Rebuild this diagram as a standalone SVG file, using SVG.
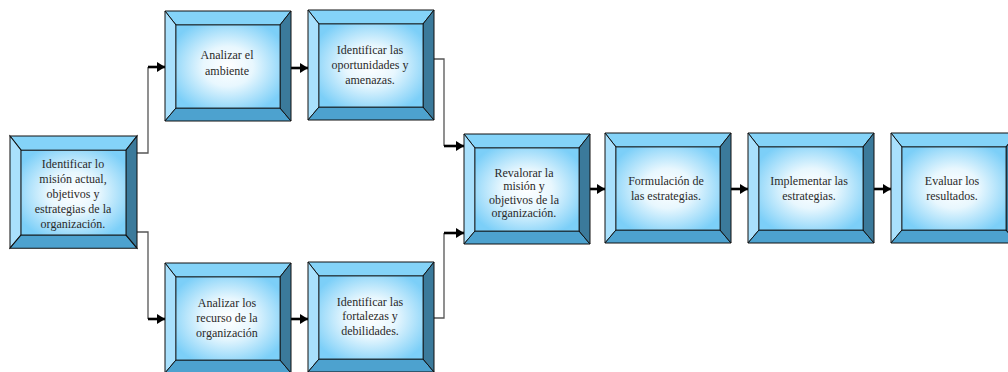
<svg xmlns="http://www.w3.org/2000/svg" width="1008" height="372" viewBox="0 0 1008 372">
<style>
.top{fill:#84d3f8;stroke:#111;stroke-width:1}
.lft{fill:#a9e0fc;stroke:#111;stroke-width:1}
.bot{fill:#4da2cf;stroke:#111;stroke-width:1}
.rgt{fill:#3b7a9b;stroke:#111;stroke-width:1}
.inn{fill:url(#g);stroke:#111;stroke-width:0.8}
.t{font-family:"Liberation Serif",serif;font-size:12px;fill:#2a2a2a;text-anchor:middle}
.thin{fill:none;stroke:#555;stroke-width:1.3}
.thick{fill:none;stroke:#000;stroke-width:2.6;marker-end:url(#a)}
</style>
<defs>
<radialGradient id="g" cx="0.5" cy="0.5" r="0.6">
<stop offset="0" stop-color="#ffffff"/>
<stop offset="0.4" stop-color="#e8f7fe"/>
<stop offset="1" stop-color="#7ccff8"/>
</radialGradient>
<marker id="a" markerUnits="userSpaceOnUse" markerWidth="9" markerHeight="10" refX="8" refY="5" orient="auto">
<path d="M0,0 L8,5 L0,10 z" fill="#000"/>
</marker>
<g id="box">
<polygon class="top" points="0,0 126,0 115,14 11,14"/>
<polygon class="lft" points="0,0 11,14 11,97 0,110"/>
<polygon class="bot" points="0,110 11,97 115,97 126,110"/>
<polygon class="rgt" points="126,0 126,110 115,97 115,14"/>
<rect class="inn" x="11" y="14" width="104" height="83"/>
</g>
</defs>

<g id="connectors">
<path class="thin" d="M137,153 H148 V67"/>
<path class="thick" d="M148,67 H165"/>
<path class="thin" d="M137,232 H148 V319"/>
<path class="thick" d="M148,319 H165"/>
<path class="thick" d="M291,68 H308"/>
<path class="thick" d="M291,319 H308"/>
<path class="thin" d="M433,59 H444 V146"/>
<path class="thick" d="M444,146 H464"/>
<path class="thin" d="M433,318 H444 V233"/>
<path class="thick" d="M444,233 H464"/>
<path class="thick" d="M589,189 H605"/>
<path class="thick" d="M730,189 H748"/>
<path class="thick" d="M873,189 H891"/>
</g>

<g id="n1" transform="translate(10,136)">
<use href="#box" transform="scale(1.008,1.02)"/>
<text class="t"><tspan x="63" y="32">Identificar lo</tspan><tspan x="63" y="47">misión actual,</tspan><tspan x="63" y="62">objetivos y</tspan><tspan x="63" y="77">estrategias de la</tspan><tspan x="63" y="92">organización.</tspan></text>
</g>

<g id="n2" transform="translate(165,11)">
<use href="#box"/>
<text class="t"><tspan x="62" y="48">Analizar el</tspan><tspan x="62" y="64">ambiente</tspan></text>
</g>

<g id="n3" transform="translate(308,10)">
<use href="#box"/>
<text class="t"><tspan x="62" y="44">Identificar las</tspan><tspan x="62" y="59">oportunidades y</tspan><tspan x="62" y="74">amenazas.</tspan></text>
</g>

<g id="n4" transform="translate(464,134)">
<use href="#box"/>
<text class="t"><tspan x="60" y="43">Revalorar la</tspan><tspan x="60" y="56">misión y</tspan><tspan x="60" y="70">objetivos de la</tspan><tspan x="60" y="83">organización.</tspan></text>
</g>

<g id="n5" transform="translate(605,133)">
<use href="#box"/>
<text class="t"><tspan x="61" y="52">Formulación de</tspan><tspan x="61" y="67">las estrategias.</tspan></text>
</g>

<g id="n6" transform="translate(748,133)">
<use href="#box"/>
<text class="t"><tspan x="61" y="52">Implementar las</tspan><tspan x="61" y="67">estrategias.</tspan></text>
</g>

<g id="n7" transform="translate(891,133)">
<use href="#box"/>
<text class="t"><tspan x="61" y="52">Evaluar los</tspan><tspan x="61" y="67">resultados.</tspan></text>
</g>

<g id="n8" transform="translate(165,263)">
<use href="#box"/>
<text class="t"><tspan x="62" y="44">Analizar los</tspan><tspan x="62" y="59">recurso de la</tspan><tspan x="62" y="74">organización</tspan></text>
</g>

<g id="n9" transform="translate(308,262)">
<use href="#box"/>
<text class="t"><tspan x="62" y="44">Identificar las</tspan><tspan x="62" y="58">fortalezas y</tspan><tspan x="62" y="73">debilidades.</tspan></text>
</g>
</svg>
